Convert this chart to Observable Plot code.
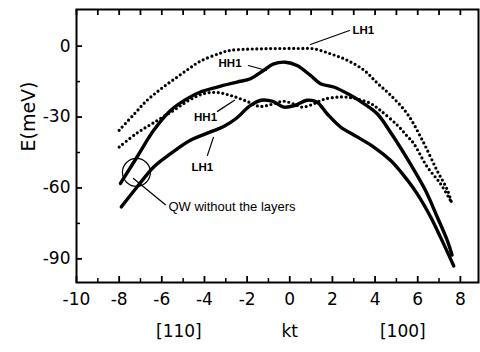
<!DOCTYPE html>
<html><head><meta charset="utf-8">
<script src="https://cdn.jsdelivr.net/npm/d3@7"></script>
<script src="https://cdn.jsdelivr.net/npm/@observablehq/plot@0.6"></script>
<style>body{margin:0;background:#fff}</style>
</head><body><div id="chart"></div>
<script>
// Axis ticks
const xMajor = [-10, -8, -6, -4, -2, 0, 2, 4, 6, 8];
const xMinor = [-9, -7, -5, -3, -1, 1, 3, 5, 7];
const yMajor = [0, -30, -60, -90];
const yMinor = [-15, -45, -75];

// Upper dotted curve (LH1, QW without the layers)
const d1X = [-8, -7.3, -6.7, -6.1, -5.5, -4.8, -4.2, -3.3, -2.8, -2, -1.2, -0.4, 0.4, 1.1, 1.9, 2.7, 3.5, 4.1, 4.7, 5.5, 6.2, 6.9, 7.4, 7.6];
const d1Y = [-35.6, -28.8, -23, -18.5, -14.5, -10, -6.4, -3.1, -1.8, -1.3, -1.1, -1.0, -1.0, -1.1, -3.2, -6, -10.3, -15.6, -20.5, -28.5, -39.5, -52.5, -61, -66.6];

// Lower dotted curve (HH1, QW without the layers)
const d2X = [-8, -7.2, -6.4, -5.5, -4.7, -4, -3.4, -2.8, -2.1, -1.4, -0.8, -0.3, 0.2, 0.6, 1.1, 1.6, 2.4, 3.1, 3.8, 4.25, 5.05, 5.5, 5.8, 6.44, 7.06, 7.53];
const d2Y = [-42.7, -37, -32.5, -27.5, -22.8, -20, -19.6, -20.8, -23, -25.5, -24.5, -23.3, -24.5, -25.8, -24.5, -22.5, -21.5, -22.2, -24.3, -27.2, -33.5, -38, -41, -51, -58.1, -65.2];

// Upper solid curve (HH1)
const s1X = [-7.94, -7.16, -6.38, -5.59, -4.81, -4.19, -3.4, -2.47, -1.84, -1.23, -0.75, -0.2, 0.34, 0.97, 1.44, 2.06, 2.85, 3.47, 4.1, 4.8, 5.6, 6.36, 6.91, 7.38, 7.61];
const s1Y = [-58.1, -46.9, -35.6, -27.2, -22.2, -19.4, -17.3, -15.2, -13.8, -10.3, -7.5, -6.8, -8.2, -12.4, -15.9, -17.3, -20.8, -24.3, -28.6, -37.5, -49, -61, -72.2, -82.1, -88.4];

// Lower solid curve (LH1)
const s2X = [-7.9, -7.16, -6.38, -5.59, -4.66, -3.72, -3.1, -2.5, -1.9, -1.35, -0.8, -0.28, 0.27, 0.81, 1.28, 1.75, 2.38, 3.16, 3.94, 4.72, 5.19, 5.97, 6.6, 7.06, 7.69];
const s2Y = [-68, -59.6, -51.1, -45.5, -39.8, -36.3, -34, -30.5, -25.5, -22.9, -23.4, -25.8, -25, -22.9, -23.7, -28.6, -34.2, -38.4, -42.7, -48.3, -53, -62.4, -72.2, -80.7, -93];

// Annotations
const annText = ["LH1", "HH1", "HH1", "LH1"];
const annX = [3.45, -2.8, -3.95, -4.1];
const annY = [6.6, -7.3, -30.1, -51.2];
const arrX1 = [2.8, -1.94, -3.39, -3.86, -7.33];
const arrY1 = [6.6, -8.2, -27.6, -46.2, -56];
const arrX2 = [0.97, -1.09, -2.59, -3.58, -5.83];
const arrY2 = [0.7, -10.3, -22.9, -38.6, -67.1];
const arrBend = [-55, 0, 0, 0, -15];
const circleX = [-7.19];
const circleY = [-53.4];
const qwText = ["QW without the layers"];
const qwX = [-5.69];
const qwY = [-68.1];
const bottomText = ["[110]", "kt", "[100]"];
const bottomX = [-5.2, 0, 5.3];
const yTitle = ["E(meV)"];

const W = 480, H = 352, mL = 76, mR = 2, mT = 9, mB = 70;
const plotW = W - mL - mR, plotH = H - mT - mB;
const rows = (xs, ys) => xs.map((x, i) => ({x, y: ys[i]}));
const arrows = arrX1.map((x1, i) => ({x1, y1: arrY1[i], x2: arrX2[i], y2: arrY2[i], bend: arrBend[i]}));
const font = "'DejaVu Sans', sans-serif";
const annFont = "'Liberation Sans', Arial, sans-serif";

const chart = Plot.plot({
  width: W, height: H,
  marginLeft: mL, marginRight: mR, marginTop: mT, marginBottom: mB,
  x: {domain: [-10, 8.85]},
  y: {domain: [-100, 15.5]},
  style: {fontFamily: font, fontSize: "17px", background: "white", color: "black"},
  marks: [
    Plot.axisX({ticks: xMajor, tickSize: 0, tickPadding: 10, tickFormat: d => String(d), label: null, fontSize: 17}),
    Plot.axisY({ticks: yMajor, tickSize: 0, tickPadding: 6, tickFormat: d => String(d), label: null, fontSize: 17}),
    Plot.tickX(xMajor, {x: d => d, insetTop: plotH - 6, strokeWidth: 1.8}),
    Plot.tickX(xMinor, {x: d => d, insetTop: plotH - 4, strokeWidth: 1.5}),
    Plot.tickX(xMajor.concat(xMinor), {x: d => d, insetBottom: plotH - 6, strokeWidth: 1.8}),
    Plot.tickY(yMajor, {y: d => d, insetRight: plotW - 6, strokeWidth: 1.8}),
    Plot.tickY(yMinor, {y: d => d, insetRight: plotW - 4, strokeWidth: 1.5}),
    Plot.line(rows(d1X, d1Y), {x: "x", y: "y", curve: "catmull-rom", stroke: "black", strokeWidth: 3.2, strokeDasharray: "0 4.6", strokeLinecap: "round"}),
    Plot.line(rows(d2X, d2Y), {x: "x", y: "y", curve: "catmull-rom", stroke: "black", strokeWidth: 3.2, strokeDasharray: "0 4.6", strokeLinecap: "round"}),
    Plot.line(rows(s1X, s1Y), {x: "x", y: "y", curve: "catmull-rom", stroke: "black", strokeWidth: 3.4, strokeLinecap: "round"}),
    Plot.line(rows(s2X, s2Y), {x: "x", y: "y", curve: "catmull-rom", stroke: "black", strokeWidth: 3.4, strokeLinecap: "round"}),
    Plot.dot(circleX.map((x, i) => ({x, y: circleY[i]})), {x: "x", y: "y", r: 14, stroke: "black", fill: "none", strokeWidth: 1.2}),
    Plot.arrow(arrows, {x1: "x1", y1: "y1", x2: "x2", y2: "y2", bend: d => d.bend, stroke: "black", strokeWidth: 1.2, headLength: 6}),
    Plot.text(annText.map((t, i) => ({t, x: annX[i], y: annY[i]})), {x: "x", y: "y", text: "t", fontFamily: annFont, fontWeight: "bold", fontSize: 11.5}),
    Plot.text(qwText.map((t, i) => ({t, x: qwX[i], y: qwY[i]})), {x: "x", y: "y", text: "t", textAnchor: "start", fontFamily: annFont, fontSize: 13}),
    Plot.text(bottomText.map((t, i) => ({t, x: bottomX[i]})), {x: "x", text: "t", frameAnchor: "bottom", dy: 54, fontSize: 17}),
    Plot.text(yTitle, {text: d => d, frameAnchor: "left", rotate: -90, dx: -48, dy: 5.5, fontSize: 19}),
    Plot.frame({stroke: "black", strokeWidth: 2})
  ]
});
document.getElementById("chart").append(chart);
</script>
</body></html>
